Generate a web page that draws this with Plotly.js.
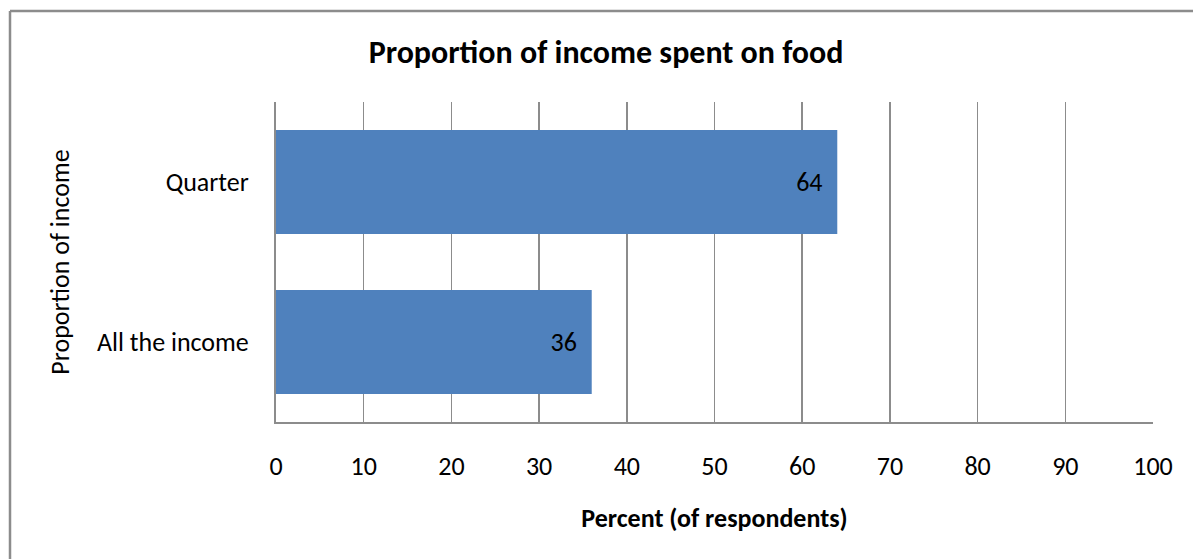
<!DOCTYPE html>
<html>
<head>
<meta charset="utf-8">
<script src="https://cdn.plot.ly/plotly-3.0.1.min.js"></script>
<style>
html,body{margin:0;padding:0;background:#fff;}
#chart{width:1193px;height:559px;}
</style>
</head>
<body>
<div id="chart"></div>
<script>
const categories = ["All the income", "Quarter"];
const percents = [36, 64];
const labels = ["36", "64"];
const xTicks = [0, 10, 20, 30, 40, 50, 60, 70, 80, 90, 100];

const FONT = "Carlito, Calibri, 'Open Sans', sans-serif";
const PAD = "\u00a0\u00a0";

const trace = {
  type: "bar",
  orientation: "h",
  y: categories,
  x: percents,
  text: labels.map(function (t) { return t + PAD; }),
  textposition: "inside",
  insidetextanchor: "end",
  textfont: {family: FONT, size: 26, color: "#000"},
  marker: {color: "#4F81BD"},
  hoverinfo: "none",
  cliponaxis: false
};

const layout = {
  width: 1193,
  height: 559,
  margin: {l: 276, r: 40, t: 102, b: 137},
  paper_bgcolor: "#fff",
  plot_bgcolor: "#fff",
  showlegend: false,
  bargap: 0.35,
  font: {family: FONT, size: 26, color: "#000"},
  title: {
    text: "<b>Proportion of income spent on food</b>",
    font: {family: FONT, size: 32, color: "#000"},
    x: 0.508, xanchor: "center", xref: "container",
    y: 0.907, yanchor: "middle", yref: "container"
  },
  xaxis: {
    range: [0, 100],
    tickvals: xTicks,
    ticktext: xTicks.map(String),
    showgrid: true,
    gridcolor: "#8c8c8c",
    gridwidth: 1.5,
    zeroline: false,
    showline: true,
    linecolor: "#8c8c8c",
    linewidth: 2,
    ticks: "",
    ticklabelstandoff: 20,
    tickfont: {family: FONT, size: 26, color: "#000"},
    title: {
      text: "<b>Percent (of respondents)</b>",
      font: {family: FONT, size: 26, color: "#000"},
      standoff: 28
    },
    fixedrange: true
  },
  yaxis: {
    showgrid: false,
    zeroline: false,
    showline: true,
    linecolor: "#8c8c8c",
    linewidth: 2,
    ticks: "",
    ticklabelstandoff: 20,
    tickfont: {family: FONT, size: 26, color: "#000"},
    title: {
      text: "Proportion of income",
      font: {family: FONT, size: 26, color: "#000"},
      standoff: 20
    },
    fixedrange: true
  },
  shapes: [
    {type: "line", xref: "paper", yref: "paper",
     x0: (10 - 276) / 877, x1: (10 - 276) / 877,
     y0: 1 + (102 - 11) / 320, y1: -0.6,
     line: {color: "#8c8c8c", width: 2.5}},
    {type: "line", xref: "paper", yref: "paper",
     x0: (10 - 276) / 877, x1: 1.1,
     y0: 1 + (102 - 11) / 320, y1: 1 + (102 - 11) / 320,
     line: {color: "#8c8c8c", width: 2.5}}
  ]
};

Plotly.newPlot("chart", [trace], layout, {displayModeBar: false, staticPlot: true});
</script>
</body>
</html>
